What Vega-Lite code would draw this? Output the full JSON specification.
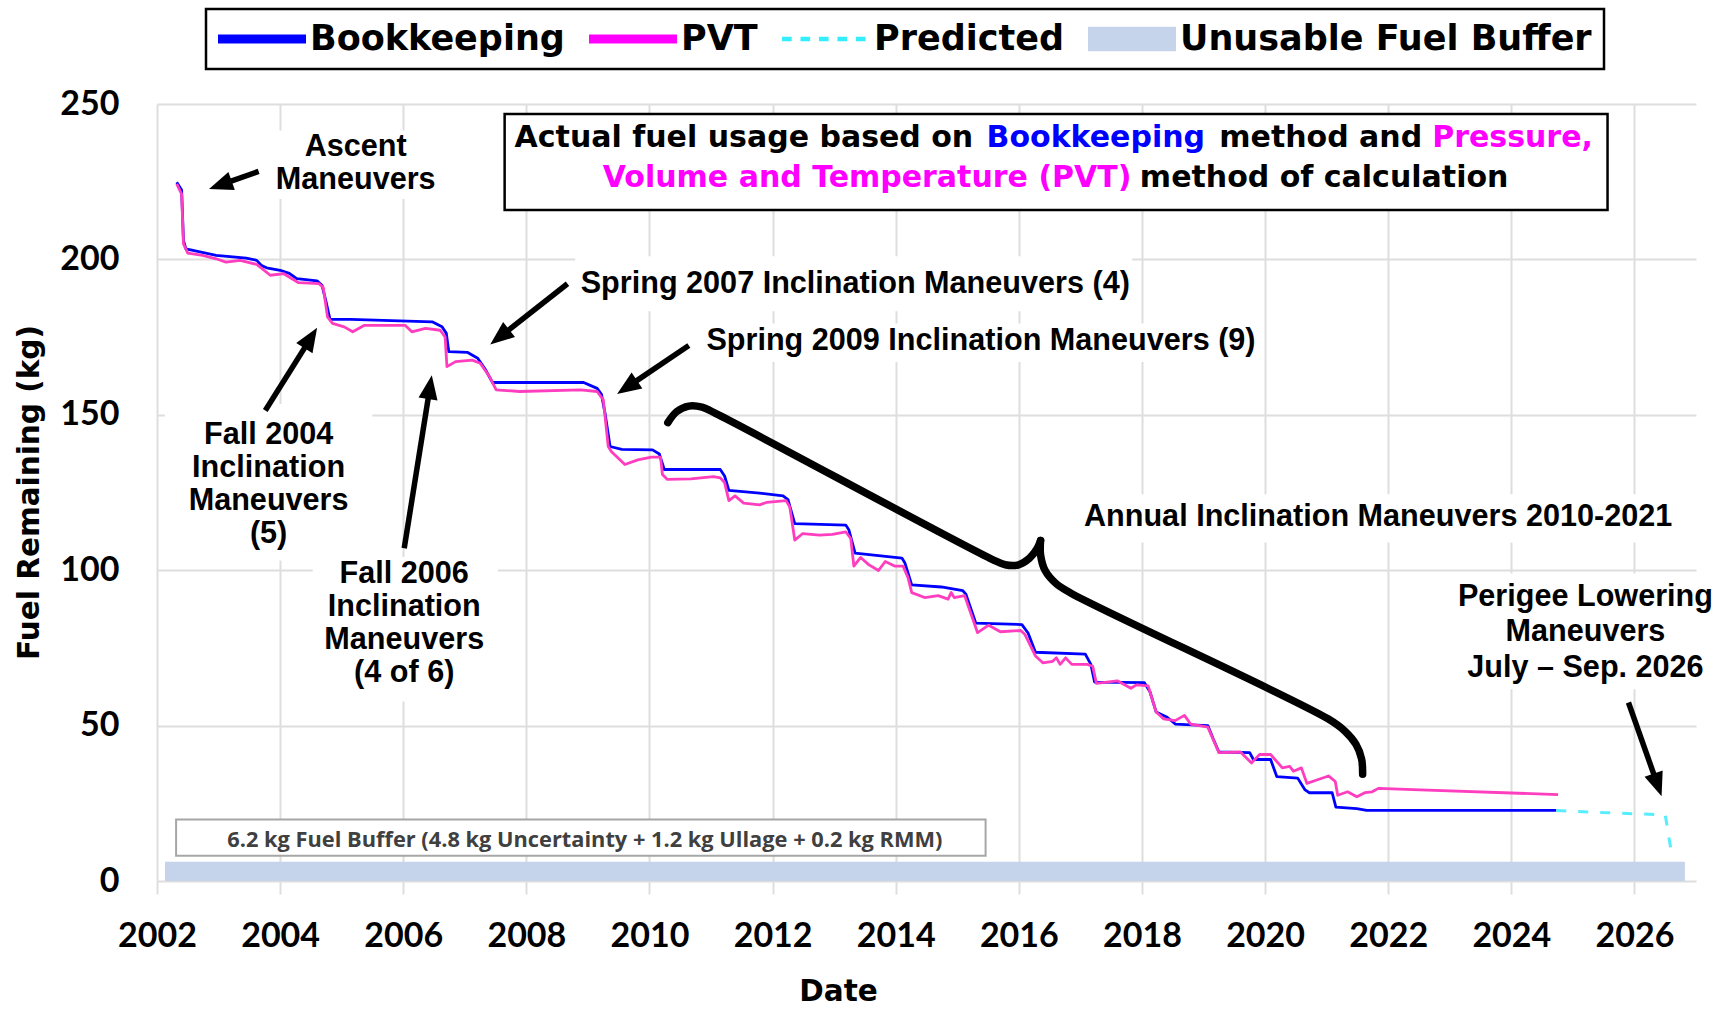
{
  "$schema": "https://vega.github.io/schema/vega-lite/v6.json",
  "width": 1539,
  "height": 777,
  "autosize": {"type": "none"},
  "padding": {"left": 157, "top": 104, "right": 33, "bottom": 130},
  "background": "#ffffff",
  "config": {
    "view": {"stroke": null},
    "axis": {
      "grid": true, "gridColor": "#dedede", "gridWidth": 2, "domain": false,
      "labelFont": "Lato", "labelFontWeight": "bold", "labelFontSize": 34, "labelColor": "#000000",
      "titleFont": "DejaVu Sans", "titleFontWeight": "bold", "titleFontSize": 29.5, "titleColor": "#000000"
    },
    "axisX": {"tickColor": "#dedede", "tickWidth": 2, "tickSize": 13, "labelPadding": 25, "titleX": 681, "titleY": 110, "titleAlign": "center", "titleBaseline": "middle", "labelFlush": false, "labelOverlap": false},
    "axisY": {"ticks": false, "labelPadding": 38, "titleX": -128, "titleY": 388, "titleAngle": 270, "titleAlign": "center", "titleBaseline": "middle"},
    "legend": {"strokeWidth": 2.5}
  },
  "datasets": {
    "fuel": [
      {"x": 2002.32, "y": 224.8, "series": "Bookkeeping"},
      {"x": 2002.40, "y": 222.3, "series": "Bookkeeping"},
      {"x": 2002.43, "y": 206.0, "series": "Bookkeeping"},
      {"x": 2002.47, "y": 203.4, "series": "Bookkeeping"},
      {"x": 2002.96, "y": 201.3, "series": "Bookkeeping"},
      {"x": 2003.45, "y": 200.4, "series": "Bookkeeping"},
      {"x": 2003.62, "y": 199.7, "series": "Bookkeeping"},
      {"x": 2003.70, "y": 198.0, "series": "Bookkeeping"},
      {"x": 2003.78, "y": 197.3, "series": "Bookkeeping"},
      {"x": 2004.00, "y": 196.5, "series": "Bookkeeping"},
      {"x": 2004.15, "y": 195.5, "series": "Bookkeeping"},
      {"x": 2004.27, "y": 193.8, "series": "Bookkeeping"},
      {"x": 2004.60, "y": 193.1, "series": "Bookkeeping"},
      {"x": 2004.68, "y": 191.7, "series": "Bookkeeping"},
      {"x": 2004.74, "y": 186.9, "series": "Bookkeeping"},
      {"x": 2004.81, "y": 180.7, "series": "Bookkeeping"},
      {"x": 2005.15, "y": 180.7, "series": "Bookkeeping"},
      {"x": 2006.47, "y": 179.9, "series": "Bookkeeping"},
      {"x": 2006.63, "y": 178.3, "series": "Bookkeeping"},
      {"x": 2006.70, "y": 176.2, "series": "Bookkeeping"},
      {"x": 2006.74, "y": 170.3, "series": "Bookkeeping"},
      {"x": 2007.04, "y": 170.1, "series": "Bookkeeping"},
      {"x": 2007.21, "y": 168.2, "series": "Bookkeeping"},
      {"x": 2007.34, "y": 164.4, "series": "Bookkeeping"},
      {"x": 2007.45, "y": 160.4, "series": "Bookkeeping"},
      {"x": 2008.93, "y": 160.4, "series": "Bookkeeping"},
      {"x": 2009.15, "y": 158.5, "series": "Bookkeeping"},
      {"x": 2009.22, "y": 156.6, "series": "Bookkeeping"},
      {"x": 2009.28, "y": 150.3, "series": "Bookkeeping"},
      {"x": 2009.36, "y": 139.8, "series": "Bookkeeping"},
      {"x": 2009.55, "y": 138.9, "series": "Bookkeeping"},
      {"x": 2010.05, "y": 138.7, "series": "Bookkeeping"},
      {"x": 2010.16, "y": 137.4, "series": "Bookkeeping"},
      {"x": 2010.24, "y": 132.4, "series": "Bookkeeping"},
      {"x": 2011.15, "y": 132.4, "series": "Bookkeeping"},
      {"x": 2011.22, "y": 130.3, "series": "Bookkeeping"},
      {"x": 2011.29, "y": 125.7, "series": "Bookkeeping"},
      {"x": 2011.79, "y": 124.8, "series": "Bookkeeping"},
      {"x": 2012.17, "y": 123.9, "series": "Bookkeeping"},
      {"x": 2012.25, "y": 122.7, "series": "Bookkeeping"},
      {"x": 2012.36, "y": 115.0, "series": "Bookkeeping"},
      {"x": 2013.19, "y": 114.5, "series": "Bookkeeping"},
      {"x": 2013.24, "y": 112.9, "series": "Bookkeeping"},
      {"x": 2013.34, "y": 105.5, "series": "Bookkeeping"},
      {"x": 2014.10, "y": 103.9, "series": "Bookkeeping"},
      {"x": 2014.15, "y": 102.3, "series": "Bookkeeping"},
      {"x": 2014.26, "y": 95.3, "series": "Bookkeeping"},
      {"x": 2014.74, "y": 94.6, "series": "Bookkeeping"},
      {"x": 2015.09, "y": 93.4, "series": "Bookkeeping"},
      {"x": 2015.14, "y": 92.3, "series": "Bookkeeping"},
      {"x": 2015.30, "y": 83.0, "series": "Bookkeeping"},
      {"x": 2016.05, "y": 82.5, "series": "Bookkeeping"},
      {"x": 2016.15, "y": 79.8, "series": "Bookkeeping"},
      {"x": 2016.27, "y": 73.6, "series": "Bookkeeping"},
      {"x": 2017.08, "y": 73.0, "series": "Bookkeeping"},
      {"x": 2017.17, "y": 69.7, "series": "Bookkeeping"},
      {"x": 2017.23, "y": 64.0, "series": "Bookkeeping"},
      {"x": 2018.04, "y": 63.8, "series": "Bookkeeping"},
      {"x": 2018.13, "y": 60.9, "series": "Bookkeeping"},
      {"x": 2018.23, "y": 54.4, "series": "Bookkeeping"},
      {"x": 2018.41, "y": 52.7, "series": "Bookkeeping"},
      {"x": 2018.54, "y": 50.5, "series": "Bookkeeping"},
      {"x": 2019.07, "y": 50.0, "series": "Bookkeeping"},
      {"x": 2019.16, "y": 45.6, "series": "Bookkeeping"},
      {"x": 2019.25, "y": 41.5, "series": "Bookkeeping"},
      {"x": 2019.75, "y": 41.3, "series": "Bookkeeping"},
      {"x": 2019.81, "y": 39.1, "series": "Bookkeeping"},
      {"x": 2020.09, "y": 39.1, "series": "Bookkeeping"},
      {"x": 2020.19, "y": 33.6, "series": "Bookkeeping"},
      {"x": 2020.53, "y": 33.1, "series": "Bookkeeping"},
      {"x": 2020.65, "y": 29.3, "series": "Bookkeeping"},
      {"x": 2020.72, "y": 28.4, "series": "Bookkeeping"},
      {"x": 2021.09, "y": 28.4, "series": "Bookkeeping"},
      {"x": 2021.15, "y": 23.8, "series": "Bookkeeping"},
      {"x": 2021.49, "y": 23.3, "series": "Bookkeeping"},
      {"x": 2021.65, "y": 22.7, "series": "Bookkeeping"},
      {"x": 2024.73, "y": 22.7, "series": "Bookkeeping"},
      {"x": 2002.32, "y": 224.3, "series": "PVT"},
      {"x": 2002.40, "y": 221.0, "series": "PVT"},
      {"x": 2002.43, "y": 205.0, "series": "PVT"},
      {"x": 2002.50, "y": 202.0, "series": "PVT"},
      {"x": 2002.74, "y": 201.3, "series": "PVT"},
      {"x": 2002.96, "y": 200.2, "series": "PVT"},
      {"x": 2003.12, "y": 199.1, "series": "PVT"},
      {"x": 2003.35, "y": 199.7, "series": "PVT"},
      {"x": 2003.62, "y": 198.4, "series": "PVT"},
      {"x": 2003.84, "y": 194.9, "series": "PVT"},
      {"x": 2004.06, "y": 195.4, "series": "PVT"},
      {"x": 2004.30, "y": 192.5, "series": "PVT"},
      {"x": 2004.63, "y": 192.2, "series": "PVT"},
      {"x": 2004.70, "y": 191.0, "series": "PVT"},
      {"x": 2004.77, "y": 181.5, "series": "PVT"},
      {"x": 2004.85, "y": 179.4, "series": "PVT"},
      {"x": 2005.04, "y": 178.3, "series": "PVT"},
      {"x": 2005.18, "y": 176.7, "series": "PVT"},
      {"x": 2005.37, "y": 178.8, "series": "PVT"},
      {"x": 2006.03, "y": 178.8, "series": "PVT"},
      {"x": 2006.14, "y": 176.7, "series": "PVT"},
      {"x": 2006.36, "y": 177.8, "series": "PVT"},
      {"x": 2006.60, "y": 177.2, "series": "PVT"},
      {"x": 2006.68, "y": 175.1, "series": "PVT"},
      {"x": 2006.71, "y": 165.5, "series": "PVT"},
      {"x": 2006.85, "y": 167.1, "series": "PVT"},
      {"x": 2007.12, "y": 167.6, "series": "PVT"},
      {"x": 2007.25, "y": 166.6, "series": "PVT"},
      {"x": 2007.40, "y": 162.3, "series": "PVT"},
      {"x": 2007.51, "y": 158.0, "series": "PVT"},
      {"x": 2007.89, "y": 157.5, "series": "PVT"},
      {"x": 2008.88, "y": 158.0, "series": "PVT"},
      {"x": 2009.15, "y": 157.5, "series": "PVT"},
      {"x": 2009.25, "y": 154.8, "series": "PVT"},
      {"x": 2009.33, "y": 139.8, "series": "PVT"},
      {"x": 2009.38, "y": 138.2, "series": "PVT"},
      {"x": 2009.60, "y": 134.0, "series": "PVT"},
      {"x": 2009.81, "y": 135.5, "series": "PVT"},
      {"x": 2010.03, "y": 136.4, "series": "PVT"},
      {"x": 2010.18, "y": 136.4, "series": "PVT"},
      {"x": 2010.21, "y": 130.8, "series": "PVT"},
      {"x": 2010.29, "y": 129.2, "series": "PVT"},
      {"x": 2010.67, "y": 129.4, "series": "PVT"},
      {"x": 2011.04, "y": 130.1, "series": "PVT"},
      {"x": 2011.15, "y": 129.7, "series": "PVT"},
      {"x": 2011.22, "y": 128.2, "series": "PVT"},
      {"x": 2011.29, "y": 122.4, "series": "PVT"},
      {"x": 2011.39, "y": 123.9, "series": "PVT"},
      {"x": 2011.53, "y": 121.6, "series": "PVT"},
      {"x": 2011.79, "y": 121.0, "series": "PVT"},
      {"x": 2011.90, "y": 121.8, "series": "PVT"},
      {"x": 2012.22, "y": 122.4, "series": "PVT"},
      {"x": 2012.28, "y": 120.3, "series": "PVT"},
      {"x": 2012.36, "y": 109.7, "series": "PVT"},
      {"x": 2012.49, "y": 111.8, "series": "PVT"},
      {"x": 2012.76, "y": 111.3, "series": "PVT"},
      {"x": 2012.97, "y": 111.5, "series": "PVT"},
      {"x": 2013.19, "y": 112.3, "series": "PVT"},
      {"x": 2013.27, "y": 110.2, "series": "PVT"},
      {"x": 2013.32, "y": 101.3, "series": "PVT"},
      {"x": 2013.43, "y": 104.1, "series": "PVT"},
      {"x": 2013.56, "y": 101.8, "series": "PVT"},
      {"x": 2013.72, "y": 99.9, "series": "PVT"},
      {"x": 2013.83, "y": 102.8, "series": "PVT"},
      {"x": 2013.99, "y": 101.3, "series": "PVT"},
      {"x": 2014.12, "y": 101.3, "series": "PVT"},
      {"x": 2014.20, "y": 97.6, "series": "PVT"},
      {"x": 2014.26, "y": 92.8, "series": "PVT"},
      {"x": 2014.47, "y": 91.2, "series": "PVT"},
      {"x": 2014.69, "y": 91.8, "series": "PVT"},
      {"x": 2014.85, "y": 90.7, "series": "PVT"},
      {"x": 2014.90, "y": 92.8, "series": "PVT"},
      {"x": 2014.95, "y": 91.2, "series": "PVT"},
      {"x": 2015.12, "y": 91.8, "series": "PVT"},
      {"x": 2015.33, "y": 79.9, "series": "PVT"},
      {"x": 2015.51, "y": 82.3, "series": "PVT"},
      {"x": 2015.70, "y": 80.2, "series": "PVT"},
      {"x": 2016.03, "y": 80.6, "series": "PVT"},
      {"x": 2016.10, "y": 79.3, "series": "PVT"},
      {"x": 2016.27, "y": 72.4, "series": "PVT"},
      {"x": 2016.39, "y": 70.2, "series": "PVT"},
      {"x": 2016.55, "y": 70.7, "series": "PVT"},
      {"x": 2016.61, "y": 71.8, "series": "PVT"},
      {"x": 2016.67, "y": 69.7, "series": "PVT"},
      {"x": 2016.76, "y": 71.8, "series": "PVT"},
      {"x": 2016.86, "y": 69.7, "series": "PVT"},
      {"x": 2017.11, "y": 69.7, "series": "PVT"},
      {"x": 2017.20, "y": 69.1, "series": "PVT"},
      {"x": 2017.26, "y": 63.6, "series": "PVT"},
      {"x": 2017.60, "y": 64.4, "series": "PVT"},
      {"x": 2017.82, "y": 62.0, "series": "PVT"},
      {"x": 2017.91, "y": 63.1, "series": "PVT"},
      {"x": 2018.10, "y": 62.8, "series": "PVT"},
      {"x": 2018.23, "y": 54.4, "series": "PVT"},
      {"x": 2018.35, "y": 52.2, "series": "PVT"},
      {"x": 2018.54, "y": 51.6, "series": "PVT"},
      {"x": 2018.69, "y": 53.3, "series": "PVT"},
      {"x": 2018.79, "y": 50.5, "series": "PVT"},
      {"x": 2019.07, "y": 49.5, "series": "PVT"},
      {"x": 2019.25, "y": 41.3, "series": "PVT"},
      {"x": 2019.60, "y": 41.5, "series": "PVT"},
      {"x": 2019.78, "y": 38.0, "series": "PVT"},
      {"x": 2019.91, "y": 40.7, "series": "PVT"},
      {"x": 2020.09, "y": 40.7, "series": "PVT"},
      {"x": 2020.28, "y": 36.4, "series": "PVT"},
      {"x": 2020.40, "y": 36.9, "series": "PVT"},
      {"x": 2020.46, "y": 35.3, "series": "PVT"},
      {"x": 2020.59, "y": 36.4, "series": "PVT"},
      {"x": 2020.68, "y": 31.4, "series": "PVT"},
      {"x": 2020.84, "y": 32.5, "series": "PVT"},
      {"x": 2021.03, "y": 33.8, "series": "PVT"},
      {"x": 2021.14, "y": 32.0, "series": "PVT"},
      {"x": 2021.18, "y": 27.6, "series": "PVT"},
      {"x": 2021.34, "y": 28.7, "series": "PVT"},
      {"x": 2021.49, "y": 27.1, "series": "PVT"},
      {"x": 2021.62, "y": 28.4, "series": "PVT"},
      {"x": 2021.74, "y": 28.7, "series": "PVT"},
      {"x": 2021.84, "y": 29.8, "series": "PVT"},
      {"x": 2022.52, "y": 29.3, "series": "PVT"},
      {"x": 2024.76, "y": 27.8, "series": "PVT"},
      {"x": 2024.73, "y": 22.7, "series": "Predicted"},
      {"x": 2025.50, "y": 22.0, "series": "Predicted"},
      {"x": 2026.50, "y": 21.3, "series": "Predicted"},
      {"x": 2026.60, "y": 9.3, "series": "Predicted"}
    ],
    "brace": [
      {"x": 2010.298, "y": 147.48, "arm": "left", "ord": 1},
      {"x": 2010.442, "y": 151.02, "arm": "left", "ord": 2},
      {"x": 2010.638, "y": 152.80, "arm": "left", "ord": 3},
      {"x": 2010.853, "y": 152.44, "arm": "left", "ord": 4},
      {"x": 2011.122, "y": 149.96, "arm": "left", "ord": 5},
      {"x": 2015.565, "y": 103.51, "arm": "left", "ord": 6},
      {"x": 2015.780, "y": 101.74, "arm": "left", "ord": 7},
      {"x": 2015.995, "y": 101.74, "arm": "left", "ord": 8},
      {"x": 2016.174, "y": 103.87, "arm": "left", "ord": 9},
      {"x": 2016.300, "y": 107.06, "arm": "left", "ord": 10},
      {"x": 2016.353, "y": 109.54, "arm": "left", "ord": 11},
      {"x": 2016.353, "y": 109.54, "arm": "right", "ord": 1},
      {"x": 2016.353, "y": 104.93, "arm": "right", "ord": 2},
      {"x": 2016.425, "y": 99.97, "arm": "right", "ord": 3},
      {"x": 2016.604, "y": 95.71, "arm": "right", "ord": 4},
      {"x": 2016.855, "y": 92.52, "arm": "right", "ord": 5},
      {"x": 2021.029, "y": 52.10, "arm": "right", "ord": 6},
      {"x": 2021.298, "y": 48.19, "arm": "right", "ord": 7},
      {"x": 2021.477, "y": 43.95, "arm": "right", "ord": 8},
      {"x": 2021.567, "y": 39.34, "arm": "right", "ord": 9},
      {"x": 2021.585, "y": 34.38, "arm": "right", "ord": 10}
    ]
  },
  "layer": [
    {
      "data": {"values": [{"x": 2002.13, "x2": 2026.82, "y": 0, "y2": 6.2}]},
      "mark": {"type": "rect", "color": "#c5d3eb"},
      "encoding": {
        "x": {"field": "x", "type": "quantitative", "scale": {"domain": [2002, 2027], "nice": false, "zero": false},
              "axis": {"title": "Date", "values": [2002, 2004, 2006, 2008, 2010, 2012, 2014, 2016, 2018, 2020, 2022, 2024, 2026], "format": "d"}},
        "x2": {"field": "x2"},
        "y": {"field": "y", "type": "quantitative", "scale": {"domain": [0, 250], "nice": false},
              "axis": {"title": "Fuel Remaining (kg)", "values": [0, 50, 100, 150, 200, 250]}},
        "y2": {"field": "y2"}
      }
    },
    {
      "data": {"values": [
        {"x": 2003.884, "x2": 2006.572, "y": 219.46, "y2": 241.44},
        {"x": 2002.128, "x2": 2005.497, "y": 103.16, "y2": 153.51},
        {"x": 2004.529, "x2": 2007.539, "y": 57.77, "y2": 104.22},
        {"x": 2008.793, "x2": 2017.841, "y": 183.29, "y2": 201.02},
        {"x": 2010.764, "x2": 2019.955, "y": 166.98, "y2": 179.39},
        {"x": 2016.909, "x2": 2026.763, "y": 108.88, "y2": 124.43},
        {"x": 2022.929, "x2": 2027.0, "y": 61.67, "y2": 98.90}
      ]},
      "mark": {"type": "rect", "fill": "#ffffff", "strokeWidth": 0},
      "encoding": {
        "x": {"field": "x", "type": "quantitative"}, "x2": {"field": "x2"},
        "y": {"field": "y", "type": "quantitative"}, "y2": {"field": "y2"}
      }
    },
    {
      "data": {"values": [{"x": 2002.31, "x2": 2015.46, "y": 8.1, "y2": 19.8}]},
      "mark": {"type": "rect", "fill": "#ffffff", "stroke": "#a6a6a6", "strokeWidth": 2},
      "encoding": {
        "x": {"field": "x", "type": "quantitative"}, "x2": {"field": "x2"},
        "y": {"field": "y", "type": "quantitative"}, "y2": {"field": "y2"}
      }
    },
    {
      "data": {"values": [{"x": 2008.95, "y": 13.2, "t": "6.2 kg Fuel Buffer (4.8 kg Uncertainty + 1.2 kg Ullage + 0.2 kg RMM)"}]},
      "mark": {"type": "text", "font": "Open Sans", "fontWeight": "bold", "fontSize": 21.8, "color": "#404040", "align": "center", "baseline": "middle"},
      "encoding": {
        "x": {"field": "x", "type": "quantitative"}, "y": {"field": "y", "type": "quantitative"}, "text": {"field": "t"}
      }
    },
    {
      "data": {"values": [{"x": 2007.647, "x2": 2025.563, "y": 215.91, "y2": 246.76}]},
      "mark": {"type": "rect", "fill": "#ffffff", "stroke": "#000000", "strokeWidth": 2.5},
      "encoding": {
        "x": {"field": "x", "type": "quantitative"}, "x2": {"field": "x2"},
        "y": {"field": "y", "type": "quantitative"}, "y2": {"field": "y2"}
      }
    },
    {
      "data": {"values": [
        {"x": 2007.808, "y": 238.96, "t": "Actual fuel usage based on"},
        {"x": 2019.256, "y": 238.96, "t": "method and"},
        {"x": 2017.966, "y": 226.19, "t": "method of calculation"}
      ]},
      "mark": {"type": "text", "font": "DejaVu Sans", "fontWeight": "bold", "fontSize": 30, "color": "#000000", "align": "left", "baseline": "middle"},
      "encoding": {"x": {"field": "x", "type": "quantitative"}, "y": {"field": "y", "type": "quantitative"}, "text": {"field": "t"}}
    },
    {
      "data": {"values": [{"x": 2015.476, "y": 238.96, "t": "Bookkeeping"}]},
      "mark": {"type": "text", "font": "DejaVu Sans", "fontWeight": "bold", "fontSize": 30, "color": "#0000ff", "align": "left", "baseline": "middle"},
      "encoding": {"x": {"field": "x", "type": "quantitative"}, "y": {"field": "y", "type": "quantitative"}, "text": {"field": "t"}}
    },
    {
      "data": {"values": [
        {"x": 2022.714, "y": 238.96, "t": "Pressure,"},
        {"x": 2009.241, "y": 226.19, "t": "Volume and Temperature (PVT)"}
      ]},
      "mark": {"type": "text", "font": "DejaVu Sans", "fontWeight": "bold", "fontSize": 30, "color": "#ff00ff", "align": "left", "baseline": "middle"},
      "encoding": {"x": {"field": "x", "type": "quantitative"}, "y": {"field": "y", "type": "quantitative"}, "text": {"field": "t"}}
    },
    {
      "data": {"name": "fuel"},
      "mark": {"type": "point", "filled": true, "opacity": 0, "size": 1},
      "encoding": {
        "x": {"field": "x", "type": "quantitative"},
        "y": {"field": "y", "type": "quantitative"},
        "color": {
          "field": "series", "type": "nominal",
          "scale": {"domain": ["Bookkeeping", "PVT", "Predicted", "Unusable Fuel Buffer"], "range": ["#0000ff", "#ff00ff", "#33eeff", "#c5d3eb"]},
          "legend": {
            "title": null, "orient": "none", "legendX": 49, "legendY": -95, "direction": "horizontal", "columns": 4,
            "padding": 12, "columnPadding": 24, "clipHeight": 36,
            "labelFont": "DejaVu Sans", "labelFontWeight": "bold", "labelFontSize": 35, "labelColor": "#000000", "labelLimit": 800, "labelOffset": 4,
            "symbolSize": 7744, "symbolStrokeWidth": 0, "symbolOpacity": 1,
            "strokeColor": "#000000", "fillColor": "#ffffff"
          }
        },
        "shape": {
          "field": "series", "type": "nominal",
          "scale": {"domain": ["Bookkeeping", "PVT", "Predicted", "Unusable Fuel Buffer"],
                    "range": ["M-1,-0.1H1V0.1H-1Z", "M-1,-0.1H1V0.1H-1Z",
                              "M-1,-0.05H-0.78V0.05H-1Z M-0.58,-0.05H-0.36V0.05H-0.58Z M-0.16,-0.05H0.06V0.05H-0.16Z M0.26,-0.05H0.48V0.05H0.26Z M0.68,-0.05H0.9V0.05H0.68Z",
                              "M-1,-0.28H1V0.28H-1Z"]},
          "legend": {
            "title": null, "orient": "none", "legendX": 49, "legendY": -95, "direction": "horizontal", "columns": 4,
            "padding": 12, "columnPadding": 24, "clipHeight": 36,
            "labelFont": "DejaVu Sans", "labelFontWeight": "bold", "labelFontSize": 35, "labelColor": "#000000", "labelLimit": 800, "labelOffset": 4,
            "symbolSize": 7744, "symbolStrokeWidth": 0, "symbolOpacity": 1,
            "strokeColor": "#000000", "fillColor": "#ffffff"
          }
        }
      }
    },
    {
      "data": {"name": "fuel"},
      "transform": [{"filter": "datum.series === 'Bookkeeping'"}],
      "mark": {"type": "line", "strokeWidth": 2.8, "strokeJoin": "round", "color": "#0000ff"},
      "encoding": {
        "x": {"field": "x", "type": "quantitative"},
        "y": {"field": "y", "type": "quantitative"}
      }
    },
    {
      "data": {"name": "fuel"},
      "transform": [{"filter": "datum.series === 'PVT'"}],
      "mark": {"type": "line", "strokeWidth": 2.8, "strokeJoin": "round", "color": "#ff3dbf"},
      "encoding": {
        "x": {"field": "x", "type": "quantitative"},
        "y": {"field": "y", "type": "quantitative"}
      }
    },
    {
      "data": {"name": "fuel"},
      "transform": [{"filter": "datum.series === 'Predicted'"}],
      "mark": {"type": "line", "strokeWidth": 3, "strokeDash": [10, 12], "color": "#55eeff"},
      "encoding": {
        "x": {"field": "x", "type": "quantitative"},
        "y": {"field": "y", "type": "quantitative"}
      }
    },
    {
      "data": {"name": "brace"},
      "mark": {"type": "line", "strokeWidth": 7.5, "strokeCap": "round", "strokeJoin": "round", "color": "#000000", "interpolate": "catmull-rom"},
      "encoding": {
        "x": {"field": "x", "type": "quantitative"},
        "y": {"field": "y", "type": "quantitative"},
        "detail": {"field": "arm"},
        "order": {"field": "ord", "type": "quantitative"}
      }
    },
    {
      "data": {"values": [{"x": 2003.651, "y": 228.32, "x2": 2003.031, "y2": 223.96, "hx": 2002.845, "hy": 222.65}]},
      "layer": [
        {"mark": {"type": "rule", "strokeWidth": 5.5, "color": "#000000"},
         "encoding": {"x": {"field": "x", "type": "quantitative"}, "y": {"field": "y", "type": "quantitative"}, "x2": {"field": "x2"}, "y2": {"field": "y2"}}},
        {"mark": {"type": "point", "shape": "M0,0L-0.8,2L0.8,2Z", "size": 576, "angle": 250.4, "filled": true, "opacity": 1, "color": "#000000", "strokeWidth": 0},
         "encoding": {"x": {"field": "hx", "type": "quantitative"}, "y": {"field": "hy", "type": "quantitative"}}}
      ]
    },
    {
      "data": {"values": [{"x": 2003.759, "y": 151.38, "x2": 2004.497, "y2": 174.67, "hx": 2004.601, "hy": 177.97}]},
      "layer": [
        {"mark": {"type": "rule", "strokeWidth": 5.5, "color": "#000000"},
         "encoding": {"x": {"field": "x", "type": "quantitative"}, "y": {"field": "y", "type": "quantitative"}, "x2": {"field": "x2"}, "y2": {"field": "y2"}}},
        {"mark": {"type": "point", "shape": "M0,0L-0.8,2L0.8,2Z", "size": 576, "angle": 32.1, "filled": true, "opacity": 1, "color": "#000000", "strokeWidth": 0},
         "encoding": {"x": {"field": "hx", "type": "quantitative"}, "y": {"field": "hy", "type": "quantitative"}}}
      ]
    },
    {
      "data": {"values": [{"x": 2006.016, "y": 107.06, "x2": 2006.434, "y2": 158.87, "hx": 2006.464, "hy": 162.73}]},
      "layer": [
        {"mark": {"type": "rule", "strokeWidth": 5.5, "color": "#000000"},
         "encoding": {"x": {"field": "x", "type": "quantitative"}, "y": {"field": "y", "type": "quantitative"}, "x2": {"field": "x2"}, "y2": {"field": "y2"}}},
        {"mark": {"type": "point", "shape": "M0,0L-0.8,2L0.8,2Z", "size": 576, "angle": 9.05, "filled": true, "opacity": 1, "color": "#000000", "strokeWidth": 0},
         "encoding": {"x": {"field": "hx", "type": "quantitative"}, "y": {"field": "hy", "type": "quantitative"}}}
      ]
    },
    {
      "data": {"values": [{"x": 2008.668, "y": 192.16, "x2": 2007.569, "y2": 175.06, "hx": 2007.413, "hy": 172.65}]},
      "layer": [
        {"mark": {"type": "rule", "strokeWidth": 5.5, "color": "#000000"},
         "encoding": {"x": {"field": "x", "type": "quantitative"}, "y": {"field": "y", "type": "quantitative"}, "x2": {"field": "x2"}, "y2": {"field": "y2"}}},
        {"mark": {"type": "point", "shape": "M0,0L-0.8,2L0.8,2Z", "size": 576, "angle": 231.8, "filled": true, "opacity": 1, "color": "#000000", "strokeWidth": 0},
         "encoding": {"x": {"field": "hx", "type": "quantitative"}, "y": {"field": "hy", "type": "quantitative"}}}
      ]
    },
    {
      "data": {"values": [{"x": 2010.639, "y": 172.30, "x2": 2009.637, "y2": 158.9, "hx": 2009.474, "hy": 156.70}]},
      "layer": [
        {"mark": {"type": "rule", "strokeWidth": 5.5, "color": "#000000"},
         "encoding": {"x": {"field": "x", "type": "quantitative"}, "y": {"field": "y", "type": "quantitative"}, "x2": {"field": "x2"}, "y2": {"field": "y2"}}},
        {"mark": {"type": "point", "shape": "M0,0L-0.8,2L0.8,2Z", "size": 576, "angle": 235.9, "filled": true, "opacity": 1, "color": "#000000", "strokeWidth": 0},
         "encoding": {"x": {"field": "hx", "type": "quantitative"}, "y": {"field": "hy", "type": "quantitative"}}}
      ]
    },
    {
      "data": {"values": [{"x": 2025.903, "y": 57.42, "x2": 2026.375, "y2": 30.97, "hx": 2026.441, "hy": 27.28}]},
      "layer": [
        {"mark": {"type": "rule", "strokeWidth": 5.5, "color": "#000000"},
         "encoding": {"x": {"field": "x", "type": "quantitative"}, "y": {"field": "y", "type": "quantitative"}, "x2": {"field": "x2"}, "y2": {"field": "y2"}}},
        {"mark": {"type": "point", "shape": "M0,0L-0.8,2L0.8,2Z", "size": 576, "angle": 160.6, "filled": true, "opacity": 1, "color": "#000000", "strokeWidth": 0},
         "encoding": {"x": {"field": "hx", "type": "quantitative"}, "y": {"field": "hy", "type": "quantitative"}}}
      ]
    },
    {
      "data": {"values": [
        {"x": 2005.228, "y": 236.12, "t": "Ascent\nManeuvers"},
        {"x": 2003.813, "y": 143.58, "t": "Fall 2004\nInclination\nManeuvers\n(5)"},
        {"x": 2006.016, "y": 98.90, "t": "Fall 2006\nInclination\nManeuvers\n(4 of 6)"},
        {"x": 2021.836, "y": 116.99, "t": "Annual Inclination Maneuvers 2010-2021"}
      ]},
      "mark": {"type": "text", "font": "Liberation Sans", "fontWeight": "bold", "fontSize": 30.6, "color": "#000000", "align": "center", "baseline": "middle", "lineBreak": "\n", "lineHeight": 33},
      "encoding": {"x": {"field": "x", "type": "quantitative"}, "y": {"field": "y", "type": "quantitative"}, "text": {"field": "t"}}
    },
    {
      "data": {"values": [
        {"x": 2025.204, "y": 91.46, "t": "Perigee Lowering\nManeuvers\nJuly – Sep. 2026"}
      ]},
      "mark": {"type": "text", "font": "Liberation Sans", "fontWeight": "bold", "fontSize": 30.6, "color": "#000000", "align": "center", "baseline": "middle", "lineBreak": "\n", "lineHeight": 35.5},
      "encoding": {"x": {"field": "x", "type": "quantitative"}, "y": {"field": "y", "type": "quantitative"}, "text": {"field": "t"}}
    },
    {
      "data": {"values": [
        {"x": 2008.883, "y": 192.16, "t": "Spring 2007 Inclination Maneuvers (4)"},
        {"x": 2010.925, "y": 173.72, "t": "Spring 2009 Inclination Maneuvers (9)"}
      ]},
      "mark": {"type": "text", "font": "Liberation Sans", "fontWeight": "bold", "fontSize": 30.6, "color": "#000000", "align": "left", "baseline": "middle"},
      "encoding": {"x": {"field": "x", "type": "quantitative"}, "y": {"field": "y", "type": "quantitative"}, "text": {"field": "t"}}
    }
  ]
}
